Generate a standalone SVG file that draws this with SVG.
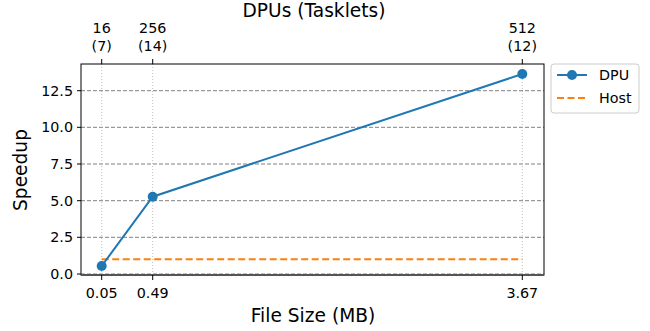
<svg xmlns="http://www.w3.org/2000/svg" width="650" height="331" viewBox="0 0 650 331">
  <style>
    text { font-family: "DejaVu Sans", sans-serif; fill: #000; }
    .tick { font-size: 14.3px; }
    .lab { font-size: 18.6px; }
    .ytl { text-anchor: end; }
    .mid { text-anchor: middle; }
    .hgrid { stroke: #808080; stroke-width: 1; stroke-dasharray: 4 2; }
    .vgrid { stroke: #b0b0b0; stroke-width: 0.8; stroke-dasharray: 1 2; }
    .tk { stroke: #000; stroke-width: 1; }
  </style>
  <rect width="650" height="331" fill="#fff"/>

  <g id="grid">
    <line class="hgrid" x1="81" y1="90.7" x2="544" y2="90.7"/>
    <line class="hgrid" x1="81" y1="127.3" x2="544" y2="127.3"/>
    <line class="hgrid" x1="81" y1="164" x2="544" y2="164"/>
    <line class="hgrid" x1="81" y1="200.7" x2="544" y2="200.7"/>
    <line class="hgrid" x1="81" y1="237.3" x2="544" y2="237.3"/>
    <line class="hgrid" x1="81" y1="274" x2="544" y2="274"/>
    <line class="vgrid" x1="101.7" y1="64" x2="101.7" y2="275"/>
    <line class="vgrid" x1="152.7" y1="64" x2="152.7" y2="275"/>
    <line class="vgrid" x1="522.3" y1="64" x2="522.3" y2="275"/>
  </g>

  <g id="connectors">
    <line id="host" x1="101.7" y1="259.3" x2="522.3" y2="259.3" stroke="#ff7f0e" stroke-width="2" stroke-dasharray="7 3.5"/>
    <polyline id="dpu" points="101.7,266 152.7,196.7 522.3,74" fill="none" stroke="#1f77b4" stroke-width="2"/>
  </g>

  <g id="markers" fill="#1f77b4">
    <circle cx="101.7" cy="266" r="5"/>
    <circle cx="152.7" cy="196.7" r="5"/>
    <circle cx="522.3" cy="74" r="5"/>
  </g>

  <g id="axes">
    <rect x="81" y="64" width="463" height="211" fill="none" stroke="#000" stroke-width="1"/>
    <line x1="81" y1="275" x2="544" y2="275" stroke="#555" stroke-width="2"/>
    <!-- y ticks -->
    <line class="tk" x1="77" y1="90.7" x2="81" y2="90.7"/>
    <line class="tk" x1="77" y1="127.3" x2="81" y2="127.3"/>
    <line class="tk" x1="77" y1="164" x2="81" y2="164"/>
    <line class="tk" x1="77" y1="200.7" x2="81" y2="200.7"/>
    <line class="tk" x1="77" y1="237.3" x2="81" y2="237.3"/>
    <line class="tk" x1="77" y1="274" x2="81" y2="274"/>
    <!-- bottom x ticks -->
    <line class="tk" x1="101.7" y1="275" x2="101.7" y2="280"/>
    <line class="tk" x1="152.7" y1="275" x2="152.7" y2="280"/>
    <line class="tk" x1="522.3" y1="275" x2="522.3" y2="280"/>
    <!-- top x ticks -->
    <line class="tk" x1="101.7" y1="59" x2="101.7" y2="64"/>
    <line class="tk" x1="152.7" y1="59" x2="152.7" y2="64"/>
    <line class="tk" x1="522.3" y1="59" x2="522.3" y2="64"/>
  </g>

  <g id="labels">
    <text class="tick ytl" x="73" y="95.8">12.5</text>
    <text class="tick ytl" x="73" y="132.4">10.0</text>
    <text class="tick ytl" x="73" y="169.1">7.5</text>
    <text class="tick ytl" x="73" y="205.8">5.0</text>
    <text class="tick ytl" x="73" y="242.4">2.5</text>
    <text class="tick ytl" x="73" y="279.1">0.0</text>

    <text class="tick mid" x="101.7" y="298">0.05</text>
    <text class="tick mid" x="152.7" y="298">0.49</text>
    <text class="tick mid" x="522.3" y="298">3.67</text>

    <text class="tick mid" x="101.7" y="33">16</text>
    <text class="tick mid" x="101.7" y="50.5">(7)</text>
    <text class="tick mid" x="152.7" y="33">256</text>
    <text class="tick mid" x="152.7" y="50.5">(14)</text>
    <text class="tick mid" x="522.3" y="33">512</text>
    <text class="tick mid" x="522.3" y="50.5">(12)</text>

    <text class="lab mid" x="314" y="17">DPUs (Tasklets)</text>
    <text class="lab mid" x="313" y="322">File Size (MB)</text>
    <text class="lab mid" transform="translate(27,170) rotate(-90)">Speedup</text>
  </g>

  <g id="legend">
    <rect x="551" y="64" width="88" height="49" rx="3" fill="#fff" fill-opacity="0.8" stroke="#ccc" stroke-width="1"/>
    <line x1="557" y1="75" x2="587" y2="75" stroke="#1f77b4" stroke-width="2"/>
    <circle cx="572" cy="75" r="5" fill="#1f77b4"/>
    <text class="tick" x="599" y="80">DPU</text>
    <line x1="557" y1="98" x2="587" y2="98" stroke="#ff7f0e" stroke-width="2" stroke-dasharray="7 3.5"/>
    <text class="tick" x="599" y="103">Host</text>
  </g>
</svg>
